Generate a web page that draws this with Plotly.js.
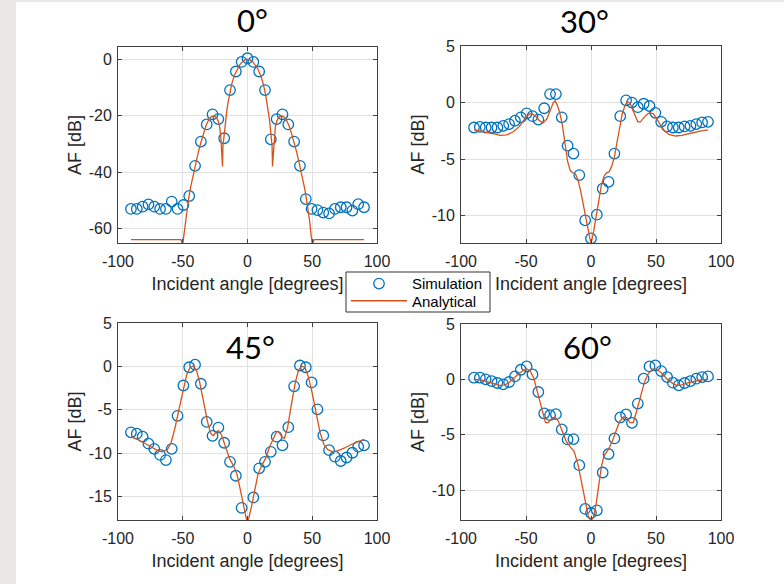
<!DOCTYPE html>
<html>
<head>
<meta charset="utf-8">
<script src="https://cdn.plot.ly/plotly-3.0.1.min.js"></script>
<style>html,body{margin:0;padding:0;background:#fff;}#chart{width:784px;height:584px;}</style>
</head>
<body>
<div id="chart"></div>
<script>
// Simulation sample angles (degrees)
const simAngles = [-90,-85.5,-81,-76.5,-72,-67.5,-63,-58.5,-54,-49.5,-45,-40.5,-36,-31.5,-27,-22.5,-18,-13.5,-9,-4.5,0,4.5,9,13.5,18,22.5,27,31.5,36,40.5,45,49.5,54,58.5,63,67.5,72,76.5,81,85.5,90];

// Simulation AF values (dB)
const sim0  = [-53.1,-53.1,-52.3,-51.5,-52.3,-53.1,-53.1,-50.5,-53.1,-51.7,-48.5,-37.8,-29.2,-23.1,-19.5,-21.2,-28.0,-10.9,-4.3,-0.9,0.4,-0.9,-4.3,-10.9,-28.4,-21.2,-19.5,-23.1,-29.2,-37.8,-49.6,-53.1,-53.5,-54.4,-54.7,-53.1,-52.5,-52.5,-53.7,-51.4,-52.5];
const sim30 = [-2.2,-2.15,-2.2,-2.2,-2.2,-2.05,-1.9,-1.6,-1.3,-0.95,-1.2,-1.5,-0.5,0.75,0.75,-1.3,-3.8,-4.5,-6.4,-10.4,-12.0,-9.9,-7.6,-7.0,-4.5,-1.2,0.2,0.0,-0.4,-0.1,-0.3,-0.9,-1.7,-2.1,-2.2,-2.2,-2.1,-2.05,-1.9,-1.75,-1.7];
const sim45 = [-7.6,-7.75,-8.1,-8.9,-9.5,-10.2,-10.8,-9.5,-5.7,-2.2,-0.1,0.2,-2.0,-6.4,-8.0,-7.05,-8.8,-11.0,-12.6,-16.3,-17.75,-15.1,-11.75,-11.0,-9.85,-8.1,-9.1,-7.0,-2.3,0.1,-0.1,-1.85,-4.95,-7.95,-9.65,-10.4,-10.9,-10.5,-9.95,-9.25,-9.1];
const sim60 = [0.15,0.15,0.0,-0.15,-0.33,-0.45,-0.24,0.27,0.87,1.17,0.45,-1.14,-3.08,-3.23,-3.14,-4.52,-5.42,-5.39,-7.75,-11.7,-12.07,-11.83,-8.41,-6.74,-5.33,-3.44,-3.17,-3.92,-2.19,0.06,1.17,1.26,0.75,0.21,-0.3,-0.54,-0.33,-0.15,0.06,0.21,0.27];

// Analytical curves (angle, AF dB)
const ana0X = [-90,-51.5,-50,-49,-48,-47,-45.5,-44,-42,-40,-38,-36,-34,-32,-30,-28,-26,-24,-22.5,-21.5,-20.5,-19.3,-19,-18,-17,-16,-15,-14,-12,-10,-8,-6,-4,-2,0,2,4,6,8,10,12,14,15,16,17,18,19,19.3,20.5,21.5,22.5,24,26,28,30,32,34,36,38,40,42,44,45.5,47,48,49,50,51.5,90];
const ana0Y = [-64,-64,-65.6,-62,-57.5,-54,-49.5,-45.5,-41,-37,-33,-29.5,-26.3,-23.5,-21.5,-20.4,-20.0,-20.6,-22,-24,-28,-38,-31,-26,-21.5,-18.3,-15.2,-12.5,-8.4,-5.5,-3.4,-1.9,-0.8,-0.2,0,-0.2,-0.8,-1.9,-3.4,-5.5,-8.4,-12.5,-15.2,-18.3,-21.5,-26,-31,-38,-28,-24,-22,-20.6,-20.0,-20.4,-21.5,-23.5,-26.3,-29.5,-33,-37,-41,-45.5,-49.5,-54,-57.5,-62,-65.6,-64,-64];

const ana30X = [-90,-85,-80,-75,-70,-65,-60,-55,-52,-49,-46,-43,-40,-37,-34,-31,-29,-27.5,-26,-24,-22,-20,-18,-16,-14,-12,-10,-8,-6,-4,-2,0,2,4,6,8,10,12,14,16,18,20,22,24,26,28,30,32,34,36,38,40,42,45,48,51,54,57,60,65,70,75,80,85,90];
const ana30Y = [-2.4,-2.5,-2.6,-2.75,-2.9,-2.85,-2.6,-2.1,-1.6,-1.15,-0.95,-1.15,-1.55,-1.8,-1.45,-0.6,0.0,0.15,-0.2,-0.9,-2.0,-3.6,-5.2,-6.0,-6.2,-6.3,-6.8,-7.8,-9.0,-10.2,-11.4,-12.5,-11.4,-10.0,-8.6,-7.3,-6.5,-6.2,-6.1,-5.6,-4.8,-3.6,-2.2,-1.0,-0.3,0.1,-0.05,-0.6,-1.2,-1.7,-1.7,-1.45,-1.15,-0.9,-1.0,-1.5,-2.1,-2.55,-2.8,-2.95,-2.9,-2.75,-2.6,-2.5,-2.4];

const ana45X = [-90,-85,-80,-75,-70,-66,-62,-59,-56,-53,-50,-47,-44.5,-42,-39.5,-37,-34,-31,-28.5,-26.5,-24.5,-22.5,-20,-17,-14,-11,-8,-5,-3,-1,0,1,3,5,8,11,14,17,20,22.5,24.5,26.5,28.5,31,34,37,39.5,42,44.5,47,50,53,56,59,62,66,70,75,80,85,90];
const ana45Y = [-8.1,-8.4,-8.8,-9.25,-9.65,-9.85,-9.6,-8.8,-7.1,-5.0,-2.8,-1.0,-0.15,0.05,-0.4,-1.8,-4.0,-6.3,-7.7,-8.0,-7.6,-7.4,-7.9,-9.2,-10.6,-11.4,-12.5,-14.6,-16.2,-17.5,-17.8,-17.5,-16.2,-14.6,-12.5,-11.4,-10.6,-9.3,-8.2,-7.5,-7.6,-8.1,-8.3,-7.0,-4.3,-1.8,-0.4,0.05,-0.15,-1.2,-3.1,-5.5,-7.6,-9.0,-9.6,-9.85,-9.7,-9.4,-9.0,-8.7,-8.4];

const ana60X = [-90,-85,-80,-75,-70,-66,-62,-58,-54,-50,-47,-44,-41,-38,-35,-33,-30,-27.5,-25,-22,-19,-16,-13,-10,-7,-4,-2,0,2,4,6,8,10,13,16,19,22,25,27.5,30,32.5,35,38,41,44,47,50,54,58,62,66,70,75,80,85,90];
const ana60Y = [0.0,-0.05,-0.2,-0.4,-0.55,-0.5,-0.2,0.25,0.65,0.95,0.8,0.1,-1.2,-2.7,-3.9,-3.9,-3.5,-3.4,-3.8,-4.7,-5.6,-6.1,-6.5,-7.7,-9.6,-11.4,-12.4,-12.8,-12.4,-11.2,-9.4,-7.9,-6.9,-6.4,-5.7,-4.7,-3.8,-3.4,-3.45,-3.9,-3.9,-2.9,-1.5,-0.3,0.5,0.9,0.95,0.6,0.1,-0.3,-0.55,-0.5,-0.3,-0.15,-0.05,0.0];

const panelTitles = ['0°','30°','45°','60°'];
const xTicks = [-100,-50,0,50,100];
const xTickText = ['-100','-50','0','50','100'];
const yTicks1 = [-60,-40,-20,0];
const yTickText1 = ['-60','-40','-20','0'];
const yTicks2 = [-10,-5,0,5];
const yTickText2 = ['-10','-5','0','5'];
const yTicks3 = [-15,-10,-5,0,5];
const yTickText3 = ['-15','-10','-5','0','5'];
const yTicks4 = [-10,-5,0,5];
const yTickText4 = ['-10','-5','0','5'];

const W = 784, H = 584;
const blue = '#0072BD', orange = '#D95319';
const tickFont = {family:'Liberation Sans, Arial, sans-serif', size:16, color:'#262626'};
const labelFont = {family:'Liberation Sans, Arial, sans-serif', size:18, color:'#262626'};
const legFont = {family:'Liberation Sans, Arial, sans-serif', size:15, color:'#000'};

function px(x){return x/W;}
function py(y){return 1 - y/H;}

const panels = [
  {sim:sim0, ax:ana0X, ay:ana0Y, xd:[118,377], yd:[47,243], yr:[-65.2,4.4], yt:yTicks1, ytt:yTickText1},
  {sim:sim30, ax:ana30X, ay:ana30Y, xd:[461,721], yd:[46,243], yr:[-12.4,5], yt:yTicks2, ytt:yTickText2},
  {sim:sim45, ax:ana45X, ay:ana45Y, xd:[118,377], yd:[323,520], yr:[-17.7,5], yt:yTicks3, ytt:yTickText3},
  {sim:sim60, ax:ana60X, ay:ana60Y, xd:[461,721], yd:[324,520], yr:[-12.7,5], yt:yTicks4, ytt:yTickText4}
];

const data = [];
const legCommon = {xanchor:'left', yanchor:'top', bgcolor:'rgba(0,0,0,0)', borderwidth:0, font:legFont, itemwidth:56, tracegroupgap:0};
const layout = {
  width:W, height:H,
  margin:{l:0,r:0,t:0,b:0},
  paper_bgcolor:'#ffffff', plot_bgcolor:'#ffffff',
  showlegend:true,
  legend:Object.assign({x:px(346), y:py(267.3)}, legCommon),
  legend2:Object.assign({x:px(346), y:py(284.5)}, legCommon),
  shapes:[
    {type:'rect', xref:'paper', yref:'paper', x0:0, x1:px(16), y0:0, y1:1, fillcolor:'#ece7e7', line:{width:0}, layer:'below'},
    {type:'rect', xref:'paper', yref:'paper', x0:0, x1:1, y0:py(2), y1:1, fillcolor:'#ece7e7', line:{width:0}, layer:'below'},
    {type:'rect', xref:'paper', yref:'paper', x0:px(346), x1:px(490), y0:py(312), y1:py(272), fillcolor:'#ffffff', line:{width:1, color:'#333333'}, layer:'below'}
  ],
  annotations:[]
};

const titlePos = [[252,20],[584,21],[251,347],[587,347]];

panels.forEach((p,i)=>{
  const n = i===0 ? '' : String(i+1);
  const xa = 'x'+n, ya = 'y'+n;
  data.push({type:'scatter', mode:'markers', x:simAngles, y:p.sim, xaxis:xa, yaxis:ya, name:'Simulation', showlegend:i===0, legend:'legend',
    marker:{symbol:'circle-open', size:10.5, color:blue, line:{width:1.3, color:blue}}, cliponaxis:false});
  data.push({type:'scatter', mode:'lines', x:p.ax, y:p.ay, xaxis:xa, yaxis:ya, name:'Analytical', showlegend:i===0, legend:'legend2',
    line:{color:orange, width:1.3}});
  const common = {showline:true, linecolor:'#404040', linewidth:1, mirror:'ticks', ticks:'inside', ticklen:4, tickcolor:'#404040',
    showgrid:true, gridcolor:'#e1e1e1', gridwidth:1, zeroline:false, tickfont:tickFont, tickmode:'array'};
  layout['xaxis'+n] = Object.assign({}, common, {domain:[px(p.xd[0]),px(p.xd[1])], range:[-100,100], tickvals:xTicks, ticktext:xTickText, anchor:ya,
    ticklabelstandoff:4, title:{text:'Incident angle [degrees]', font:labelFont, standoff:8}});
  layout['yaxis'+n] = Object.assign({}, common, {domain:[py(p.yd[1]),py(p.yd[0])], range:p.yr, tickvals:p.yt, ticktext:p.ytt, anchor:xa,
    ticklabelstandoff:2, title:{text:'AF [dB]', font:labelFont, standoff:2}});
  layout.annotations.push({xref:'paper', yref:'paper', x:px(titlePos[i][0]), y:py(titlePos[i][1]), xanchor:'center', yanchor:'middle',
    text:panelTitles[i], showarrow:false, font:{family:'Lato, Open Sans, sans-serif', size:31, color:'#000'}});
});

Plotly.newPlot('chart', data, layout, {displayModeBar:false, staticPlot:true});
</script>
</body>
</html>
